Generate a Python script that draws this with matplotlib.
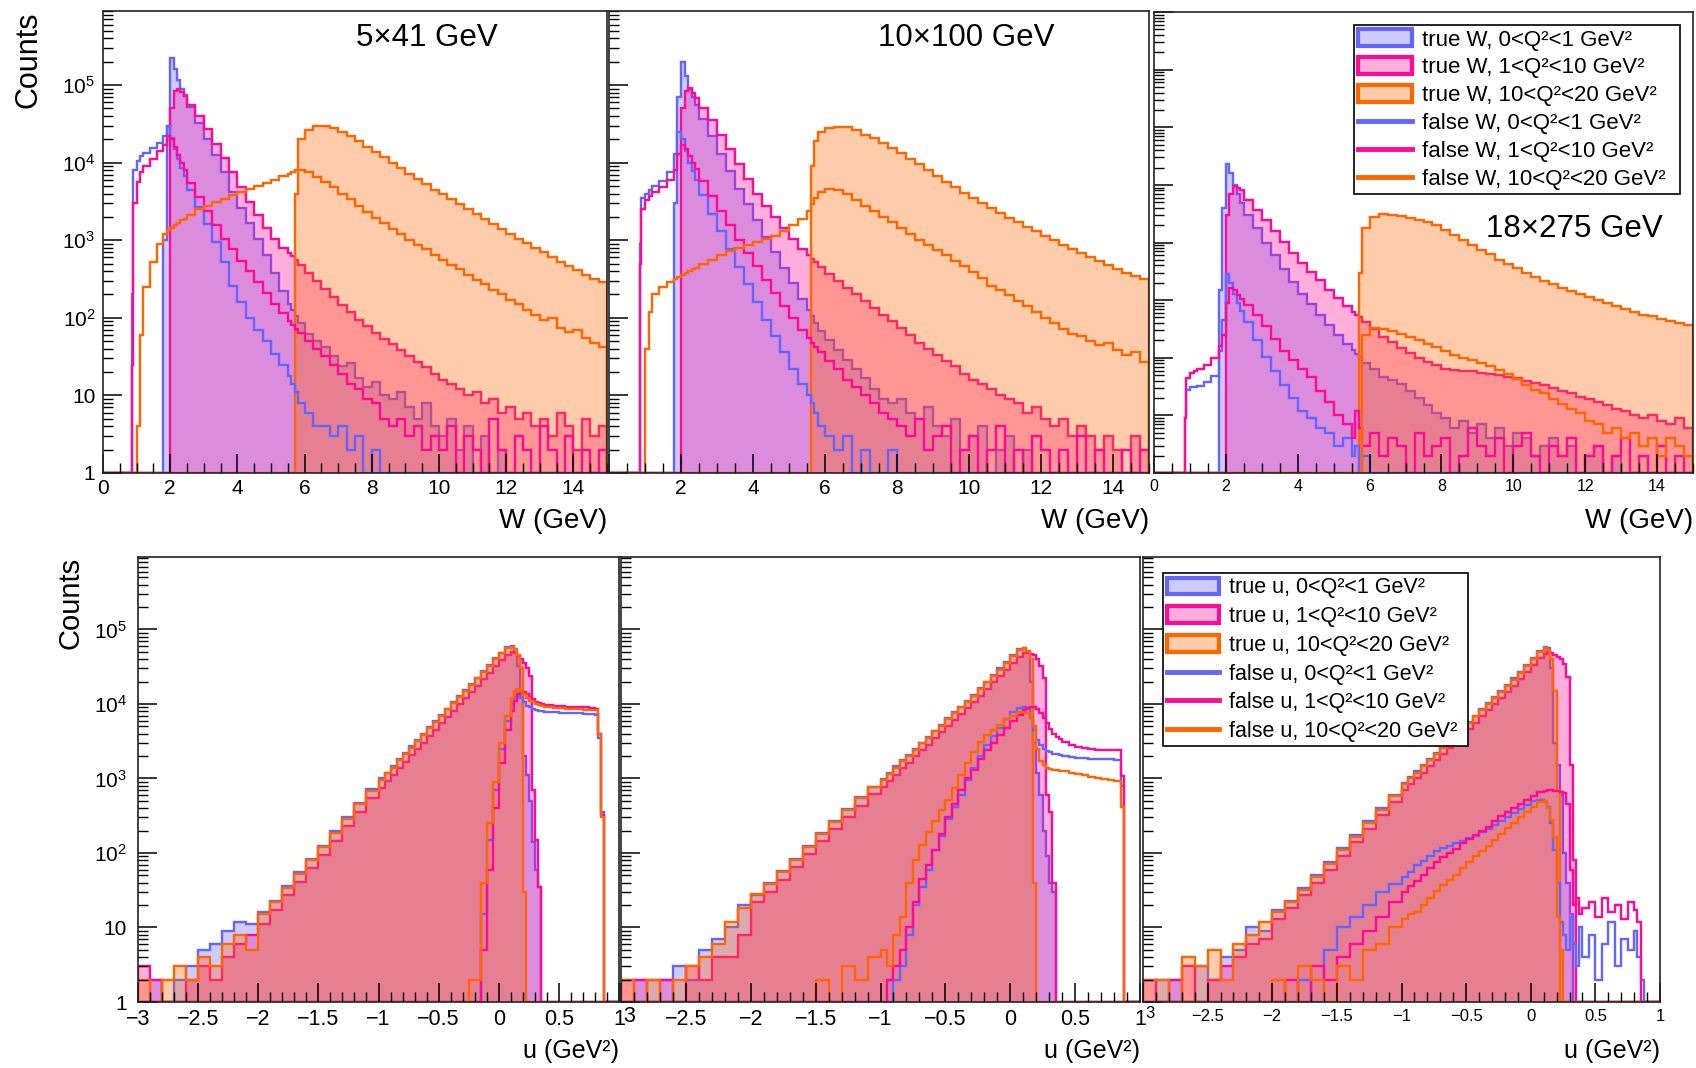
import numpy as np
import matplotlib
matplotlib.use("Agg")
import matplotlib.pyplot as plt
from matplotlib.patches import Patch
from matplotlib.lines import Line2D
from matplotlib.colors import to_rgba
from matplotlib.ticker import (FixedLocator, FixedFormatter, MultipleLocator,
                               LogLocator, NullFormatter)

plt.rcParams['font.family'] = ['Liberation Sans', 'DejaVu Sans']
plt.rcParams['mathtext.fontset'] = 'custom'
plt.rcParams['mathtext.rm'] = 'Liberation Sans'
plt.rcParams['mathtext.it'] = 'Liberation Sans:italic'

# ---------------- bin edges ----------------
W_EDGES_HEAD = [0, 0.85, 0.9, 1.0, 1.1, 1.2, 1.4, 1.6, 1.8, 1.9, 2.0, 2.1, 2.2, 2.3, 2.4, 2.5,
                2.75, 3.0, 3.25, 3.5, 3.75, 4.0, 4.25, 4.5, 4.75, 5.0, 5.25, 5.5, 5.6, 5.7, 5.8]
w_edges = np.concatenate([W_EDGES_HEAD, np.linspace(6, 15, 37)])
u_edges = np.concatenate([np.linspace(-3, -1, 21)[:-1], np.linspace(-1, 0.1, 23)[:-1],
                          np.linspace(0.1, 0.4, 13)[:-1], np.linspace(0.4, 0.8, 9)[:-1],
                          np.linspace(0.8, 0.9, 5)[:-1], np.linspace(0.9, 1.0, 3)])

# ---------------- W, 5x41 GeV ----------------
w41_true_blue = [
    0, 0, 0, 0, 0, 0, 0, 0, 1000, 3e4, 2.2e5, 1.6e5, 1.15e5, 9e4, 7.5e4, 5.2e4,
    3.2e4, 2e4, 1.25e4, 7.5e3, 4.2e3, 2.6e3, 1.65e3, 1.05e3, 650, 380, 220, 150, 125, 105, 85,
    62, 50, 42, 32, 24, 26, 17, 13, 15, 10, 9, 11, 7, 5, 8, 4, 3, 5,
    2, 4, 1, 3, 0, 2, 0, 1, 1, 0, 0, 0, 0, 0, 0, 0, 0, 0]
w41_true_pink = [
    0, 0, 0, 0, 0, 0, 0, 0, 0, 0, 5e4, 8.5e4, 9e4, 8.2e4, 7.2e4, 5.5e4, 4e4, 2.7e4, 1.75e4, 1.15e4,
    7.5e3, 4.8e3, 3.1e3, 2.1e3, 1.45e3, 1.05e3, 800, 680, 620, 560, 480,
    380, 300, 235, 185, 145, 118, 95, 78, 64, 54, 46, 38, 32, 27, 23, 19, 16, 14,
    12, 10, 11, 8, 9, 6, 7, 5, 6, 4, 5, 3, 6, 4, 2, 5, 3, 4]
w41_true_orange = [
    0, 0, 0, 0, 0, 0, 0, 0, 0, 0, 0, 0, 0, 0, 0, 0, 0, 0, 0, 0, 0, 0, 0, 0, 0, 0, 0, 0, 0, 4e3, 2e4,
    2.6e4, 2.95e4, 3e4, 2.8e4, 2.45e4, 2.2e4, 1.9e4, 1.6e4, 1.38e4, 1.18e4, 1e4, 8.5e3,
    7.2e3, 6.2e3, 5.3e3, 4.5e3, 3.9e3, 3.4e3, 2.9e3, 2.5e3, 2.15e3, 1.85e3, 1.6e3, 1.4e3,
    1.2e3, 1.05e3, 920, 800, 700, 610, 530, 460, 410, 360, 320, 290]
w41_false_blue = [
    0, 200, 8e3, 1.05e4, 1.2e4, 1.35e4, 1.55e4, 1.8e4, 2.2e4, 3e4, 2.1e4, 1.5e4, 1.1e4, 8.5e3, 6.8e3, 4.5e3,
    2.7e3, 1.6e3, 950, 520, 260, 160, 100, 70, 50, 34, 25, 18, 14, 11, 8,
    6, 4, 4, 3, 4, 2, 3, 1, 2, 0, 1, 1, 0, 0, 1, 0, 0, 0,
    0, 0, 0, 0, 0, 0, 0, 0, 0, 0, 0, 0, 0, 0, 0, 0, 0, 0]
w41_false_pink = [
    0, 25, 3e3, 5.6e3, 7.6e3, 9e3, 1.1e4, 1.4e4, 1.7e4, 2.2e4, 2e4, 1.6e4, 1.25e4, 1e4, 8e3, 5.5e3,
    3.6e3, 2.4e3, 1.55e3, 1.05e3, 760, 540, 400, 290, 210, 150, 115, 90, 80, 72, 64,
    50, 40, 32, 25, 19, 14, 12, 9, 8, 5, 4, 5, 3, 4, 2, 3, 2, 4,
    1, 3, 2, 1, 5, 2, 1, 3, 2, 1, 4, 2, 1, 3, 1, 2, 1, 2]
w41_false_orange = [
    0, 0, 0, 4, 60, 250, 520, 900, 1.2e3, 1.35e3, 1.45e3, 1.55e3, 1.65e3, 1.8e3, 1.9e3, 2.1e3,
    2.5e3, 2.8e3, 3.1e3, 3.4e3, 3.8e3, 4.2e3, 4.6e3, 5e3, 5.5e3, 6e3, 6.7e3, 7.2e3, 7.6e3, 8e3, 8e3,
    7.5e3, 6.5e3, 5.6e3, 4.8e3, 4e3, 3.4e3, 2.8e3, 2.3e3, 1.95e3, 1.65e3, 1.4e3, 1.2e3,
    1.02e3, 880, 760, 650, 560, 480, 420, 360, 310, 270, 230, 200,
    170, 150, 125, 110, 95, 100, 75, 65, 70, 55, 48, 42]

# ---------------- W, 10x100 GeV ----------------
w100_true_blue = [
    0, 0, 0, 0, 0, 0, 0, 0, 3e3, 7e4, 2e5, 1.3e5, 9e4, 7e4, 5.5e4, 3.6e4,
    2.2e4, 1.3e4, 7.8e3, 4.6e3, 2.9e3, 1.8e3, 1.1e3, 700, 440, 280, 175, 125, 105, 85, 68,
    52, 38, 29, 22, 17, 12, 9, 8, 9, 6, 5, 7, 4, 3, 5, 2, 3, 4,
    1, 2, 3, 1, 2, 0, 1, 1, 0, 1, 0, 0, 0, 0, 0, 0, 0, 0]
w100_true_pink = [
    0, 0, 0, 0, 0, 0, 0, 0, 0, 0, 5e4, 8.5e4, 9.1e4, 8e4, 6.8e4, 5e4, 3.5e4, 2.3e4, 1.5e4, 9.5e3,
    6.2e3, 4e3, 2.8e3, 2e3, 1.45e3, 1.05e3, 780, 640, 580, 520, 450,
    370, 300, 245, 200, 165, 135, 110, 90, 75, 60, 48, 40, 33, 28, 24, 19, 16, 14,
    12, 10, 9, 8, 6, 7, 5, 4, 5, 3, 4, 3, 2, 3, 2, 1, 3, 2]
w100_true_orange = [
    0, 0, 0, 0, 0, 0, 0, 0, 0, 0, 0, 0, 0, 0, 0, 0, 0, 0, 0, 0, 0, 0, 0, 0, 0, 0, 0, 0, 9e3, 1.9e4, 2.5e4,
    2.8e4, 2.9e4, 2.85e4, 2.6e4, 2.3e4, 2.05e4, 1.8e4, 1.55e4, 1.32e4, 1.12e4, 9.5e3, 8e3,
    6.8e3, 5.7e3, 4.8e3, 4.1e3, 3.5e3, 3e3, 2.6e3, 2.25e3, 1.95e3, 1.7e3, 1.48e3, 1.3e3,
    1.14e3, 1e3, 880, 780, 690, 610, 540, 480, 430, 380, 345, 320]
w100_false_blue = [
    0, 900, 3.5e3, 4e3, 4.4e3, 5e3, 5.8e3, 7.5e3, 1.3e4, 2.5e4, 2e4, 1.4e4, 1e4, 7.8e3, 6e3, 3.8e3,
    2.2e3, 1.3e3, 780, 450, 270, 160, 95, 58, 36, 22, 14, 10, 8, 6, 4,
    3, 2, 3, 1, 2, 1, 0, 2, 1, 0, 1, 0, 0, 1, 0, 0, 0, 0,
    0, 0, 0, 0, 0, 0, 0, 0, 0, 0, 0, 0, 0, 0, 0, 0, 0, 0]
w100_false_pink = [
    0, 500, 2.5e3, 3.3e3, 3.7e3, 4.2e3, 4.9e3, 6e3, 8e3, 1.3e4, 1.7e4, 1.5e4, 1.2e4, 1e4, 8.2e3, 5.8e3,
    3.7e3, 2.4e3, 1.55e3, 1e3, 680, 460, 310, 210, 140, 100, 70, 55, 48, 42, 36,
    28, 22, 16, 13, 10, 8, 6, 5, 4, 3, 5, 2, 3, 4, 1, 2, 3, 1,
    2, 4, 1, 2, 1, 3, 2, 1, 2, 1, 3, 1, 2, 1, 1, 2, 1, 2]
w100_false_orange = [
    0, 0, 0, 40, 120, 200, 250, 290, 320, 340, 360, 380, 400, 420, 440, 490,
    560, 640, 720, 800, 870, 950, 1.05e3, 1.15e3, 1.3e3, 1.55e3, 1.9e3, 2.4e3, 2.9e3, 3.5e3, 4.2e3,
    4.6e3, 4.4e3, 3.9e3, 3.3e3, 2.8e3, 2.35e3, 2e3, 1.7e3, 1.45e3, 1.2e3, 1.02e3, 870,
    750, 640, 540, 460, 390, 330, 260, 230, 195, 165, 140, 120,
    100, 85, 72, 62, 58, 50, 45, 48, 38, 33, 36, 27]

# ---------------- W, 18x275 GeV ----------------
w275_true_blue = [
    0, 0, 0, 0, 0, 0, 0, 0, 1.5e3, 4e4, 2.3e5, 1.6e5, 1e5, 7e4, 4.8e4, 3e4,
    1.75e4, 1e4, 6e3, 3.5e3, 2.1e3, 1.3e3, 850, 560, 370, 245, 170, 135, 117, 102, 81,
    63, 47, 41, 35, 26, 20, 15, 11, 9, 6, 8, 5, 7, 4, 6, 3, 5, 4,
    2, 3, 4, 2, 3, 1, 2, 3, 1, 2, 0, 1, 1, 0, 1, 0, 0, 0]
w275_true_pink = [
    0, 0, 0, 0, 0, 0, 0, 0, 0, 0, 3e4, 7e4, 9.6e4, 9e4, 8e4, 5.5e4, 3.7e4, 2.45e4, 1.6e4, 1.03e4,
    6.6e3, 4.4e3, 3.1e3, 2.2e3, 1.5e3, 1.07e3, 780, 630, 560, 500, 410,
    310, 230, 185, 150, 120, 100, 85, 74, 65, 62, 60, 58, 55, 52, 50, 46, 44, 40,
    37, 33, 30, 27, 24, 21, 19, 17, 15, 13, 12, 10, 9, 10, 8, 7, 9, 6]
w275_true_orange = [
    0, 0, 0, 0, 0, 0, 0, 0, 0, 0, 0, 0, 0, 0, 0, 0, 0, 0, 0, 0, 0, 0, 0, 0, 0, 0, 0, 0, 0, 3e3, 1.8e4,
    2.8e4, 3.1e4, 3.05e4, 2.9e4, 2.7e4, 2.5e4, 2.25e4, 2e4, 1.65e4, 1.35e4, 1.1e4, 9e3,
    7.5e3, 6.2e3, 5e3, 4.2e3, 3.6e3, 3e3, 2.5e3, 2.15e3, 1.9e3, 1.65e3, 1.45e3, 1.3e3,
    1.15e3, 1e3, 880, 790, 700, 630, 560, 520, 470, 430, 400, 370]
w275_false_blue = [
    0, 9, 28, 31, 31, 32, 38, 48, 130, 450, 2.8e3, 2e3, 1.3e3, 900, 650, 420,
    200, 105, 59, 34, 20, 12, 9, 6, 5, 3, 4, 2, 3, 1, 2,
    1, 0, 1, 0, 0, 1, 0, 0, 0, 0, 0, 0, 0, 0, 0, 0, 0, 0,
    0, 0, 0, 0, 0, 0, 0, 0, 0, 0, 0, 0, 0, 0, 0, 0, 0, 0]
w275_false_pink = [
    0, 9, 45, 55, 60, 65, 75, 100, 160, 250, 900, 1.65e3, 1.5e3, 1.25e3, 1.05e3, 830,
    550, 360, 215, 130, 91, 63, 46, 27, 17, 10, 7, 4, 12, 6, 3,
    5, 2, 4, 3, 1, 5, 2, 3, 4, 1, 2, 6, 3, 2, 4, 1, 3, 5,
    2, 1, 3, 2, 4, 1, 2, 3, 1, 2, 4, 1, 2, 1, 3, 1, 2, 1]
w275_false_orange = [
    0, 0, 0, 0, 0, 0, 0, 0, 0, 0, 0, 0, 0, 0, 0, 0, 0, 0, 0, 0, 0, 0, 0, 0, 0, 0, 0, 0, 0, 0, 250,
    330, 310, 290, 260, 230, 200, 175, 155, 130, 110, 100, 90,
    80, 72, 62, 52, 42, 34, 28, 24, 19, 16, 13, 11,
    8, 7, 5, 6, 4, 5, 3, 4, 2, 4, 3, 2]

# ---------------- u, 5x41 GeV ----------------
u41_true_blue = [
    0, 2, 0, 2, 3, 5, 6, 9, 12, 11,
    16, 23, 36, 55, 84, 125, 195, 300, 470, 720,
    1e3, 1.2e3, 1.45e3, 1.8e3, 2.2e3, 2.7e3, 3.3e3, 3.95e3, 4.9e3, 5.9e3, 7.1e3,
    8.7e3, 1.05e4, 1.28e4, 1.55e4, 1.85e4, 2.25e4, 2.75e4, 3.3e4, 4.1e4, 4.9e4, 5.8e4,
    6e4, 5e4, 3.2e4, 1.5e4, 2e3, 1.1e3, 500, 140, 60, 35, 0, 0,
    0, 0, 0, 0, 0, 0, 0, 0, 0, 0, 0, 0, 0, 0]
u41_true_pink = [
    3, 2, 0, 1, 2, 3, 2, 4, 6, 8,
    11, 17, 27, 41, 63, 95, 145, 230, 350, 540,
    750, 920, 1.1e3, 1.38e3, 1.65e3, 2.05e3, 2.5e3, 3e3, 3.7e3, 4.5e3, 5.5e3,
    6.7e3, 8.1e3, 9.9e3, 1.2e4, 1.45e4, 1.75e4, 2.15e4, 2.6e4, 3.2e4, 3.9e4, 4.6e4,
    5e4, 4.9e4, 4.4e4, 4e4, 3.5e4, 3e4, 2.4e4, 700, 150, 35, 0, 0,
    0, 0, 0, 0, 0, 0, 0, 0, 0, 0, 0, 0, 0, 0]
u41_true_orange = [
    2, 0, 2, 3, 2, 4, 3, 6, 8, 5,
    15, 22, 34, 52, 80, 120, 185, 290, 450, 690,
    950, 1.17e3, 1.4e3, 1.75e3, 2.1e3, 2.6e3, 3.15e3, 3.8e3, 4.7e3, 5.7e3, 6.9e3,
    8.5e3, 1.02e4, 1.25e4, 1.5e4, 1.8e4, 2.2e4, 2.7e4, 3.2e4, 4e4, 4.8e4, 5.6e4,
    5.8e4, 5.5e4, 4.5e4, 3e4, 30, 0, 0, 0, 0, 0, 0, 0,
    0, 0, 0, 0, 0, 0, 0, 0, 0, 0, 0, 0, 0, 0]
u41_false_blue = [
    0, 0, 0, 0, 0, 0, 0, 0, 0, 0,
    0, 0, 0, 0, 0, 0, 0, 0, 0, 0,
    0, 0, 0, 0, 0, 0, 0, 0, 0, 0, 0,
    0, 0, 0, 0, 0, 0, 15, 150, 700, 2.5e3, 6e3,
    1e4, 1.25e4, 1.3e4, 1.2e4, 1.05e4, 9.5e3, 9e3, 8.6e3, 8.3e3, 8.1e3, 8e3, 7.9e3,
    7.8e3, 7.7e3, 7.6e3, 7.6e3, 7.5e3, 7.5e3, 7.4e3, 7.3e3,
    7.2e3, 3.5e3, 350, 0, 0, 0]
u41_false_pink = [
    0, 0, 0, 0, 0, 0, 0, 0, 0, 0,
    0, 0, 0, 0, 0, 0, 0, 0, 0, 0,
    0, 0, 0, 0, 0, 0, 0, 0, 0, 0, 0,
    0, 0, 0, 0, 0, 0, 5, 60, 400, 1.6e3, 4.5e3,
    8e3, 1.1e4, 1.35e4, 1.45e4, 1.45e4, 1.35e4, 1.25e4, 1.15e4, 1.08e4, 1.03e4, 1e4, 9.8e3,
    9.6e3, 9.4e3, 9.3e3, 9.2e3, 9.1e3, 9e3, 9e3, 8.9e3,
    8.7e3, 4e3, 320, 0, 0, 0]
u41_false_orange = [
    0, 0, 0, 0, 0, 0, 0, 0, 0, 0,
    0, 0, 0, 0, 0, 0, 0, 0, 0, 0,
    0, 0, 0, 0, 0, 0, 0, 0, 0, 0, 0,
    0, 0, 0, 0, 2, 2, 40, 250, 900, 3e3, 7e3,
    1.2e4, 1.5e4, 1.6e4, 1.5e4, 1.35e4, 1.2e4, 1.1e4, 1.05e4, 1e4, 9.6e3, 9.4e3, 9.2e3,
    9e3, 8.9e3, 8.8e3, 8.7e3, 8.6e3, 8.5e3, 8.4e3, 8.3e3,
    8.2e3, 4e3, 300, 0, 0, 0]

# ---------------- u, 10x100 GeV ----------------
u100_true_blue = [
    0, 2, 2, 2, 3, 2, 5, 7, 10, 20,
    27, 40, 57, 83, 125, 185, 270, 390, 560, 780,
    980, 1.18e3, 1.45e3, 1.75e3, 2.05e3, 2.5e3, 3e3, 3.6e3, 4.4e3, 5.2e3, 6.4e3,
    7.7e3, 9.2e3, 1.1e4, 1.33e4, 1.63e4, 2e4, 2.45e4, 3e4, 3.7e4, 4.5e4, 5.4e4,
    5.7e4, 5e4, 2e4, 3e3, 1.2e3, 600, 200, 90, 40, 30, 0, 0,
    0, 0, 0, 0, 0, 0, 0, 0, 0, 0, 0, 0, 0, 0]
u100_true_pink = [
    2, 2, 0, 2, 0, 3, 2, 4, 4, 8,
    22, 30, 44, 64, 96, 145, 210, 300, 430, 610,
    770, 930, 1.13e3, 1.37e3, 1.62e3, 1.98e3, 2.4e3, 2.85e3, 3.5e3, 4.15e3, 5e3,
    6.1e3, 7.3e3, 8.8e3, 1.06e4, 1.3e4, 1.58e4, 1.95e4, 2.35e4, 2.9e4, 3.6e4, 4.3e4,
    4.8e4, 4.8e4, 4.7e4, 4.5e4, 4e4, 3.2e4, 2.2e4, 600, 350, 40, 0, 0,
    0, 0, 0, 0, 0, 0, 0, 0, 0, 0, 0, 0, 0, 0]
u100_true_orange = [
    2, 0, 2, 0, 2, 3, 4, 6, 12, 18,
    28, 38, 55, 80, 120, 180, 260, 380, 540, 760,
    950, 1.15e3, 1.4e3, 1.7e3, 2e3, 2.45e3, 2.95e3, 3.5e3, 4.3e3, 5.1e3, 6.2e3,
    7.5e3, 9e3, 1.08e4, 1.3e4, 1.6e4, 1.95e4, 2.4e4, 2.9e4, 3.6e4, 4.4e4, 5.3e4,
    5.6e4, 5.2e4, 4e4, 40, 0, 0, 0, 0, 0, 0, 0, 0,
    0, 0, 0, 0, 0, 0, 0, 0, 0, 0, 0, 0, 0, 0]
u100_false_blue = [
    0, 0, 0, 0, 0, 0, 0, 0, 0, 0,
    0, 0, 0, 0, 0, 0, 0, 0, 0, 0,
    0, 0, 2, 3, 8, 20, 35, 60, 110, 170, 290,
    420, 600, 950, 1.4e3, 2e3, 2.8e3, 3.7e3, 4.8e3, 6.2e3, 7.8e3, 8.9e3,
    9.2e3, 8.5e3, 6.5e3, 4.5e3, 3.3e3, 2.8e3, 2.5e3, 2.35e3, 2.25e3, 2.15e3, 2.1e3, 2.05e3,
    2e3, 1.95e3, 1.9e3, 1.88e3, 1.85e3, 1.83e3, 1.8e3, 1.8e3,
    1.78e3, 1.75e3, 800, 0, 0, 0]
u100_false_pink = [
    0, 0, 0, 0, 0, 0, 0, 0, 0, 0,
    0, 0, 0, 0, 0, 0, 0, 0, 0, 0,
    0, 2, 3, 5, 10, 22, 45, 70, 110, 180, 300,
    450, 700, 1e3, 1.3e3, 1.8e3, 2.4e3, 3e3, 3.8e3, 4.8e3, 6e3, 7.2e3,
    8.3e3, 8.8e3, 9.2e3, 9.2e3, 8.6e3, 7.6e3, 6.5e3, 5.5e3, 4.6e3, 4e3, 3.6e3, 3.4e3,
    3.1e3, 2.8e3, 2.65e3, 2.55e3, 2.5e3, 2.45e3, 2.42e3, 2.4e3,
    2.4e3, 2.38e3, 1.07e3, 0, 0, 0]
u100_false_orange = [
    0, 0, 0, 0, 0, 0, 0, 0, 0, 0,
    0, 0, 0, 0, 0, 2, 0, 3, 2, 4,
    5, 3, 8, 14, 40, 80, 130, 190, 270, 380, 520,
    750, 1.1e3, 1.6e3, 2.3e3, 3.1e3, 3.8e3, 4.5e3, 5.3e3, 6.2e3, 7e3, 7.7e3,
    7.9e3, 7.6e3, 6.5e3, 5e3, 2.5e3, 1.7e3, 1.5e3, 1.4e3, 1.35e3, 1.32e3, 1.3e3, 1.28e3,
    1.25e3, 1.2e3, 1.15e3, 1.1e3, 1.06e3, 1.02e3, 980, 950,
    930, 920, 420, 0, 0, 0]

# ---------------- u, 18x275 GeV ----------------
u275_true_blue = [
    0, 2, 2, 0, 3, 2, 4, 5, 10, 9,
    17, 23, 34, 50, 76, 115, 175, 265, 400, 600,
    880, 1.05e3, 1.25e3, 1.5e3, 1.8e3, 2.2e3, 2.65e3, 3.2e3, 3.95e3, 4.8e3, 5.8e3,
    7e3, 8.5e3, 1.03e4, 1.24e4, 1.5e4, 1.8e4, 2.2e4, 2.7e4, 3.35e4, 4.2e4, 5.2e4,
    5.9e4, 5.6e4, 3e4, 3e3, 1.5e3, 600, 100, 40, 15, 0, 0, 0,
    0, 0, 0, 0, 0, 0, 0, 0, 0, 0, 0, 0, 0, 0]
u275_true_pink = [
    2, 0, 2, 3, 0, 2, 3, 4, 6, 7,
    13, 18, 27, 40, 60, 92, 140, 210, 320, 490,
    700, 840, 1e3, 1.2e3, 1.45e3, 1.75e3, 2.1e3, 2.55e3, 3.1e3, 3.75e3, 4.6e3,
    5.6e3, 6.8e3, 8.2e3, 1e4, 1.2e4, 1.45e4, 1.75e4, 2.15e4, 2.65e4, 3.3e4, 4.1e4,
    4.7e4, 5e4, 4.9e4, 4.6e4, 4.3e4, 4e4, 3.4e4, 2.3e4, 1.5e3, 80, 0, 0,
    0, 0, 0, 0, 0, 0, 0, 0, 0, 0, 0, 0, 0, 0]
u275_true_orange = [
    2, 2, 0, 4, 3, 5, 2, 6, 8, 12,
    16, 22, 32, 48, 72, 110, 165, 250, 380, 580,
    850, 1e3, 1.2e3, 1.45e3, 1.75e3, 2.1e3, 2.55e3, 3.1e3, 3.8e3, 4.6e3, 5.6e3,
    6.8e3, 8.2e3, 1e4, 1.2e4, 1.45e4, 1.75e4, 2.1e4, 2.6e4, 3.2e4, 4e4, 5e4,
    5.6e4, 5.3e4, 4e4, 1.5e4, 700, 5, 0, 0, 0, 0, 0, 0,
    0, 0, 0, 0, 0, 0, 0, 0, 0, 0, 0, 0, 0, 0]
u275_false_blue = [
    0, 0, 0, 0, 0, 0, 0, 0, 0, 0,
    0, 0, 2, 0, 5, 10, 14, 20, 30, 38,
    48, 55, 68, 78, 90, 105, 115, 125, 135, 145, 158,
    170, 190, 210, 235, 265, 300, 340, 390, 440, 500, 520,
    480, 420, 250, 110, 40, 12, 8, 5, 14, 6, 3, 10,
    4, 8, 2, 6, 12, 3, 7, 5,
    9, 4, 2, 0, 0, 0]
u275_false_pink = [
    0, 0, 0, 0, 0, 0, 0, 0, 0, 0,
    0, 2, 0, 3, 2, 4, 6, 9, 14, 22,
    30, 36, 42, 50, 62, 75, 88, 100, 112, 135, 155,
    175, 200, 225, 270, 310, 350, 400, 460, 520, 590, 650,
    690, 710, 700, 690, 670, 660, 640, 450, 60, 20, 25, 15,
    18, 22, 14, 25, 16, 20, 13, 22,
    17, 12, 0, 0, 0, 0]
u275_false_orange = [
    0, 0, 0, 0, 0, 0, 0, 0, 0, 0,
    2, 0, 3, 2, 0, 3, 2, 5, 6, 10,
    13, 15, 16, 20, 25, 31, 37, 43, 50, 62, 75,
    90, 105, 125, 150, 180, 215, 255, 300, 350, 410, 480,
    500, 400, 280, 165, 14, 0, 0, 0, 0, 0, 0, 0,
    0, 0, 0, 0, 0, 0, 0, 0, 0, 0, 0, 0, 0, 0]

BLUE, PINK, ORANGE = '#6464ff', '#ff0a96', '#ff6600'
COLORS = [BLUE, PINK, ORANGE]
LW = 1.7
W = 1696.0
H = 1068.0


def fig_rect(x0, x1, ytop, ybot):
    return [x0 / W, 1 - ybot / H, (x1 - x0) / W, (ybot - ytop) / H]


def draw_hists(ax, edges, trues, falses):
    for vals, col in zip(trues, COLORS):
        v = np.clip(np.asarray(vals, float), 1, None)
        assert len(v) == len(edges) - 1, (len(v), len(edges))
        ax.stairs(v, edges, baseline=1, fill=True, color=col, alpha=0.33, linewidth=0)
        ax.stairs(v, edges, baseline=1, color=col, linewidth=LW)
    for vals, col in zip(falses, COLORS):
        v = np.clip(np.asarray(vals, float), 1, None)
        assert len(v) == len(edges) - 1, (len(v), len(edges))
        ax.stairs(v, edges, baseline=1, color=col, linewidth=LW)


YLABELS = ['1', '10', '$10^{2}$', '$10^{3}$', '$10^{4}$', '$10^{5}$', '$10^{6}$', '$10^{7}$', '$10^{8}$']


def style(ax, xlim, ylim, xt, xl, xminor, fsx, ylab, ypad=5.5, xpad=4):
    ax.set_xlim(*xlim)
    ax.set_yscale('log')
    ax.set_ylim(*ylim)
    ax.xaxis.set_major_locator(FixedLocator(xt))
    ax.xaxis.set_major_formatter(FixedFormatter(xl))
    ax.xaxis.set_minor_locator(MultipleLocator(xminor))
    ax.yaxis.set_major_locator(FixedLocator([10.0 ** k for k in range(9)]))
    ax.yaxis.set_minor_locator(LogLocator(base=10, subs=np.arange(2, 10), numticks=40))
    ax.yaxis.set_minor_formatter(NullFormatter())
    if ylab:
        ax.yaxis.set_major_formatter(FixedFormatter(YLABELS))
    else:
        ax.yaxis.set_major_formatter(NullFormatter())
    ax.tick_params(which='both', direction='in', top=False, right=False)
    ax.tick_params(which='major', length=14, width=1.1)
    ax.tick_params(which='minor', length=7, width=1.0)
    ax.tick_params(axis='x', labelsize=fsx, pad=xpad)
    ax.tick_params(axis='y', labelsize=15, pad=ypad)
    for s in ax.spines.values():
        s.set_linewidth(1.2)
        s.set_color('#222222')


fig = plt.figure(figsize=(16.96, 10.68), dpi=100)

w_ticks = [0, 2, 4, 6, 8, 10, 12, 14]
w_lab = ['0', '2', '4', '6', '8', '10', '12', '14']
u_ticks = [-3, -2.5, -2, -1.5, -1, -0.5, 0, 0.5, 1]
u_lab = ['\u22123', '\u22122.5', '\u22122', '\u22121.5', '\u22121', '\u22120.5', '0', '0.5', '1']

# top row (W)
a1 = fig.add_axes(fig_rect(103, 607, 11, 473))
a2 = fig.add_axes(fig_rect(609, 1149, 11, 473))
a3 = fig.add_axes(fig_rect(1154, 1693, 12, 473))
draw_hists(a1, w_edges, [w41_true_blue, w41_true_pink, w41_true_orange],
           [w41_false_blue, w41_false_pink, w41_false_orange])
draw_hists(a2, w_edges, [w100_true_blue, w100_true_pink, w100_true_orange],
           [w100_false_blue, w100_false_pink, w100_false_orange])
draw_hists(a3, w_edges, [w275_true_blue, w275_true_pink, w275_true_orange],
           [w275_false_blue, w275_false_pink, w275_false_orange])
style(a1, (0, 15), (1, 9e5), w_ticks, w_lab, 0.5, 15, True)
style(a2, (0, 15), (1, 9e5), w_ticks, [''] + w_lab[1:], 0.5, 15, False)
style(a3, (0, 15), (1, 1e8), w_ticks, w_lab, 0.5, 11.5, False)

# bottom row (u)
b1 = fig.add_axes(fig_rect(138, 619, 557, 1002))
b2 = fig.add_axes(fig_rect(621, 1140, 557, 1002))
b3 = fig.add_axes(fig_rect(1143, 1660, 557, 1002))
draw_hists(b1, u_edges, [u41_true_blue, u41_true_pink, u41_true_orange],
           [u41_false_blue, u41_false_pink, u41_false_orange])
draw_hists(b2, u_edges, [u100_true_blue, u100_true_pink, u100_true_orange],
           [u100_false_blue, u100_false_pink, u100_false_orange])
draw_hists(b3, u_edges, [u275_true_blue, u275_true_pink, u275_true_orange],
           [u275_false_blue, u275_false_pink, u275_false_orange])
style(b1, (-3, 1), (1, 9.4e5), u_ticks, u_lab, 0.1, 15.5, True, ypad=8, xpad=5)
style(b2, (-3, 1), (1, 9.4e5), u_ticks, [''] + u_lab[1:], 0.1, 15.5, False, xpad=5)
style(b3, (-3, 1), (1, 9.4e5), u_ticks, [''] + u_lab[1:], 0.1, 12, False, xpad=5)

# cut-off tick label remnants at the panel joins
fig.text(623 / W, 1 - 1016 / H, '3', fontsize=15.5, ha='left', va='center')
fig.text(1145 / W, 1 - 1014 / H, '3', fontsize=12, ha='left', va='center')

# axis titles
fig.text(29 / W, 1 - 11 / H, 'Counts', rotation=90, ha='center', va='top', fontsize=22)
fig.text(70 / W, 1 - 557 / H, 'Counts', rotation=90, ha='center', va='top', fontsize=21)
for xr in (607, 1149, 1693):
    fig.text(xr / W, 1 - 521 / H, 'W (GeV)', ha='right', va='center', fontsize=20)
for xr in (619, 1140, 1660):
    fig.text(xr / W, 1 - 1051 / H, 'u (GeV\u00b2)', ha='right', va='center', fontsize=18)

# beam energy labels
fig.text(427 / W, 1 - 38 / H, '5\u00d741 GeV', ha='center', va='center', fontsize=22.5)
fig.text(966 / W, 1 - 38 / H, '10\u00d7100 GeV', ha='center', va='center', fontsize=22.5)
fig.text(1574 / W, 1 - 229 / H, '18\u00d7275 GeV', ha='center', va='center', fontsize=22.5)

# legends
q_ranges = ['0<Q\u00b2<1 GeV\u00b2', '1<Q\u00b2<10 GeV\u00b2', '10<Q\u00b2<20 GeV\u00b2']
handles = ([Patch(facecolor=to_rgba(c, 0.33), edgecolor=c, linewidth=3) for c in COLORS] +
           [Line2D([], [], color=c, lw=3.5) for c in COLORS])
for ax, var, box, fs, ls in ((a3, 'W', (0.371, 0.602, 0.605, 0.370), 16, 0.3),
                             (b3, 'u', (0.0387, 0.584, 0.590, 0.380), 15.5, 0.36)):
    labels = ['true %s, %s' % (var, q) for q in q_ranges] + ['false %s, %s' % (var, q) for q in q_ranges]
    leg = ax.legend(handles, labels, loc='upper left', bbox_to_anchor=box, mode='expand',
                    fontsize=fs, frameon=True, fancybox=False, edgecolor='black', framealpha=1,
                    borderpad=0.2, labelspacing=ls, handlelength=2.4, handleheight=0.8,
                    handletextpad=0.45, borderaxespad=0)
    leg.get_frame().set_linewidth(1.2)

fig.savefig('out.png', dpi=100, facecolor='white')
